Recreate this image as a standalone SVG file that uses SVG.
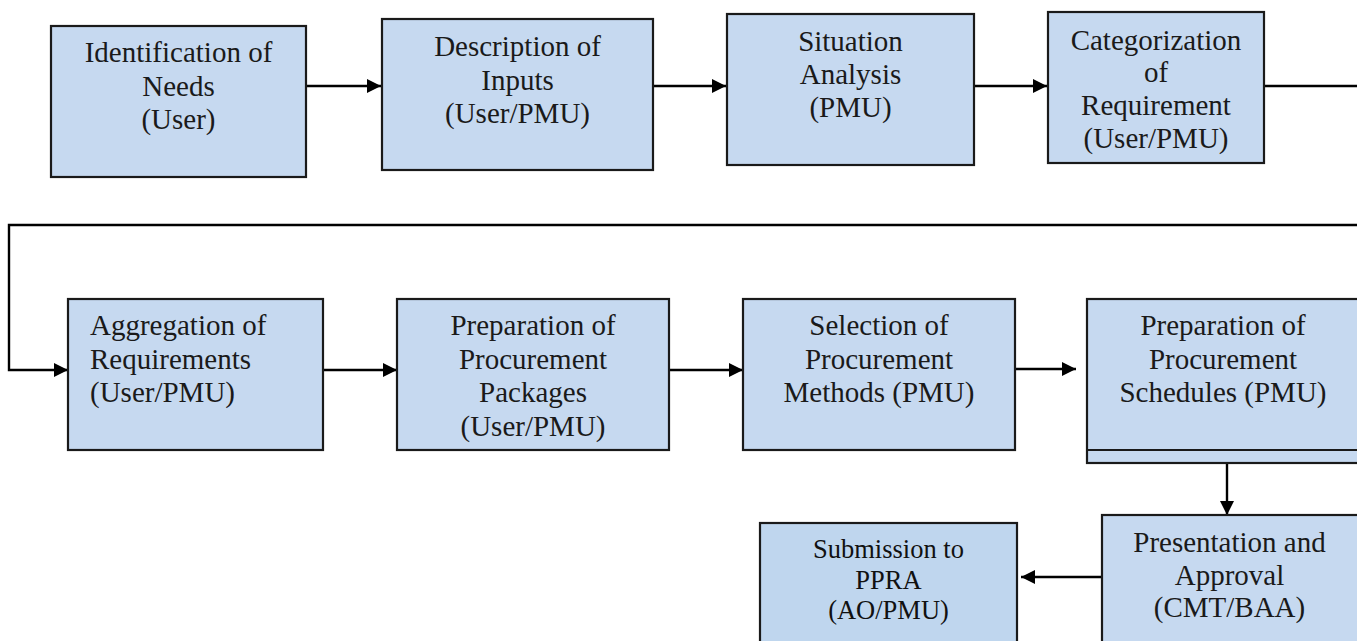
<svg xmlns="http://www.w3.org/2000/svg" width="1357" height="641" viewBox="0 0 1357 641">
<defs>
<marker id="arr" viewBox="0 0 10 10" refX="10" refY="5" markerWidth="16" markerHeight="14" markerUnits="userSpaceOnUse" orient="auto">
<path d="M0,0 L10,5 L0,10 Z" fill="#000"/>
</marker>
<style>
.box{fill:#c6d9f0;stroke:#1a1a1a;stroke-width:2.2}
.box2{fill:#bfd6ee;stroke:#1a1a1a;stroke-width:2.2}
.t{font-family:"Liberation Serif","DejaVu Serif",serif;font-size:29px;fill:#1a1a1a;text-anchor:middle}
.tl{font-family:"Liberation Serif","DejaVu Serif",serif;font-size:29px;fill:#1a1a1a;text-anchor:start}
.ts{font-family:"Liberation Serif","DejaVu Serif",serif;font-size:26.5px;fill:#111;text-anchor:middle}
.c{fill:none;stroke:#000;stroke-width:2.4}
</style>
</defs>
<rect width="1357" height="641" fill="#fff"/>
<g id="connectors">
<path class="c" d="M306,86 H381" marker-end="url(#arr)"/>
<path class="c" d="M653,86 H726" marker-end="url(#arr)"/>
<path class="c" d="M974,86 H1047" marker-end="url(#arr)"/>
<path class="c" d="M1264,86 H1360"/>
<path class="c" d="M1360,225 H9 V370 H68" marker-end="url(#arr)"/>
<path class="c" d="M323,370 H397" marker-end="url(#arr)"/>
<path class="c" d="M669,370 H743" marker-end="url(#arr)"/>
<path class="c" d="M1015,369 H1076" marker-end="url(#arr)"/>
<path class="c" d="M1227,450 V515" marker-end="url(#arr)"/>
<path class="c" d="M1102,577 H1021" marker-end="url(#arr)"/>
</g>
<g id="n1">
<rect class="box" x="51" y="26" width="255" height="151"/>
<text class="t" x="178.5" y="62">Identification of</text>
<text class="t" x="178.5" y="96">Needs</text>
<text class="t" x="178.5" y="129">(User)</text>
</g>
<g id="n2">
<rect class="box" x="382" y="19" width="271" height="151"/>
<text class="t" x="517.5" y="56">Description of</text>
<text class="t" x="517.5" y="90">Inputs</text>
<text class="t" x="517.5" y="123">(User/PMU)</text>
</g>
<g id="n3">
<rect class="box" x="727" y="14" width="247" height="151"/>
<text class="t" x="850.5" y="51">Situation</text>
<text class="t" x="850.5" y="84">Analysis</text>
<text class="t" x="850.5" y="117">(PMU)</text>
</g>
<g id="n4">
<rect class="box" x="1048" y="12" width="216" height="151"/>
<text class="t" x="1156" y="50">Categorization</text>
<text class="t" x="1156" y="82">of</text>
<text class="t" x="1156" y="115">Requirement</text>
<text class="t" x="1156" y="148">(User/PMU)</text>
</g>
<g id="n5">
<rect class="box" x="68" y="299" width="255" height="151"/>
<text class="tl" x="90" y="335">Aggregation of</text>
<text class="tl" x="90" y="369">Requirements</text>
<text class="tl" x="90" y="402">(User/PMU)</text>
</g>
<g id="n6">
<rect class="box" x="397" y="299" width="272" height="151"/>
<text class="t" x="533" y="335">Preparation of</text>
<text class="t" x="533" y="369">Procurement</text>
<text class="t" x="533" y="402">Packages</text>
<text class="t" x="533" y="436">(User/PMU)</text>
</g>
<g id="n7">
<rect class="box" x="743" y="299" width="272" height="151"/>
<text class="t" x="879" y="335">Selection of</text>
<text class="t" x="879" y="369">Procurement</text>
<text class="t" x="879" y="402">Methods (PMU)</text>
</g>
<g id="n8">
<rect class="box" x="1087" y="299" width="275" height="164"/>
<line x1="1087" y1="450" x2="1362" y2="450" stroke="#1a1a1a" stroke-width="2.2"/>
<text class="t" x="1223" y="335">Preparation of</text>
<text class="t" x="1223" y="369">Procurement</text>
<text class="t" x="1223" y="402">Schedules (PMU)</text>
</g>
<g id="n9">
<rect class="box" x="1102" y="515" width="260" height="130"/>
<text class="t" x="1229.5" y="552">Presentation and</text>
<text class="t" x="1229.5" y="585">Approval</text>
<text class="t" x="1229.5" y="617">(CMT/BAA)</text>
</g>
<g id="n10">
<rect class="box2" x="760" y="523" width="257" height="122"/>
<text class="ts" x="888.5" y="558">Submission to</text>
<text class="ts" x="888.5" y="589">PPRA</text>
<text class="ts" x="888.5" y="619">(AO/PMU)</text>
</g>
</svg>
